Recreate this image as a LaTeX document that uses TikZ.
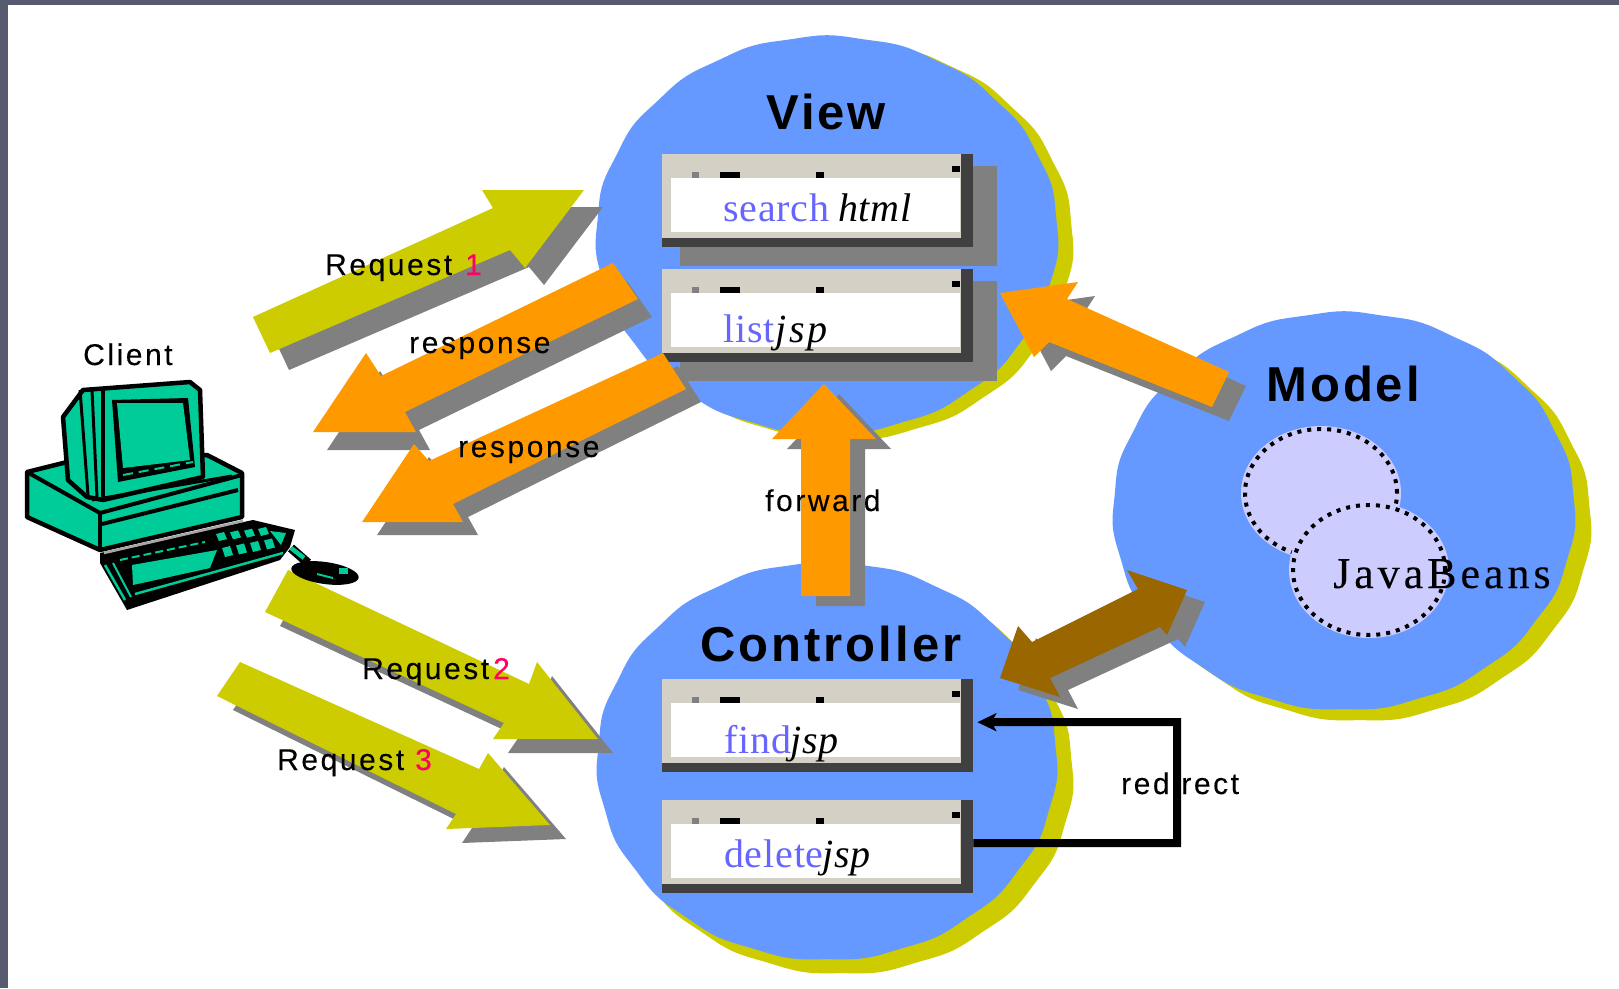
\documentclass[tikz,border=0pt]{standalone}
\usepackage{fontspec}
\setmainfont{Liberation Sans}
\newfontfamily\lblfont[LetterSpace=8.5,FakeBold=0.15]{Liberation Sans}
\newfontfamily\headfont[LetterSpace=6.2]{Liberation Sans}
\newfontfamily\tmsfont[LetterSpace=2]{Liberation Serif}
\newfontfamily\tmsitfont[LetterSpace=2,Scale=1]{Liberation Serif}
\newfontfamily\jspwide[LetterSpace=7]{Liberation Serif}
\newfontfamily\beanfont[LetterSpace=9,FakeBold=0.15]{Liberation Serif}
\usetikzlibrary{arrows.meta,calc}
\definecolor{barcol}{HTML}{585A70}
\definecolor{bluecol}{HTML}{6699FF}
\definecolor{yelcol}{HTML}{CCCC00}
\definecolor{orgcol}{HTML}{FF9900}
\definecolor{brncol}{HTML}{996600}
\definecolor{gracol}{HTML}{808080}
\definecolor{tealcol}{HTML}{00CC99}
\definecolor{lilcol}{HTML}{CCCCFF}
\definecolor{beigecol}{HTML}{D5D0C5}
\definecolor{darkcol}{HTML}{404040}
\definecolor{linkcol}{HTML}{6666FF}
\definecolor{redcol}{HTML}{FF0066}
\tikzset{
  lbl/.style={anchor=base west,inner sep=0pt,font=\lblfont\fontsize{30}{30}\selectfont},
  numlbl/.style={lbl,text=redcol},
  head/.style={anchor=base west,inner sep=0pt,font=\headfont\bfseries\fontsize{49}{49}\selectfont},
  pagetxt/.style={anchor=base west,inner sep=0pt,font=\tmsfont\fontsize{40}{40}\selectfont},
  pageit/.style={pagetxt,font=\tmsitfont\itshape\fontsize{40}{40}\selectfont},
  boxbase/.style={anchor=north west,inner sep=0pt,minimum width=311pt,minimum height=93pt,fill=darkcol},
  pc/.style={fill=tealcol,draw=black,line width=4.5pt,line join=round},
  pcline/.style={draw=black,line width=4pt},
  beanout/.style={draw=black,line width=4pt,dash pattern=on 4pt off 6pt},
}
\newcommand\blobpath[4]{plot[domain=0:358,samples=180,variable=\t,smooth cycle] ({#1+#3*(1+0.004*sin(19*\t))*cos(\t)},{#2+#4*(1+0.004*sin(19*\t))*sin(\t)})}
\newcommand\blob[5]{\fill[#5] \blobpath{#1}{#2}{#3}{#4};}
\newcommand\boxshadow[1]{\fill[gracol] (680,{#1+12}) rectangle (997,{#1+112});}
\newcommand\jspbox[2]{% name, top y
  \node[boxbase] (#1) at (662,#2) {};
  \fill[beigecol] (662,#2) rectangle (961,{#2+84});
  \fill[white] (671,{#2+24}) rectangle (960,{#2+78});
  \fill[black] (720,{#2+18}) rectangle (740,{#2+24});
  \fill[black] (816,{#2+18}) rectangle (824,{#2+24});
  \fill[black] (952,{#2+12}) rectangle (960,{#2+18});
  \fill[gracol] (692,{#2+24}) rectangle (699,{#2+18});
}
\newcommand\fatarrow[3]{% points, shadow offset, colour
  \fill[gracol,shift={(#2)}] #1 -- cycle;
  \fill[#3] #1 -- cycle;}
\begin{document}
\begin{tikzpicture}[x=1pt,y=-1pt]
\useasboundingbox (0,0) rectangle (1619,988);
\fill[white] (0,0) rectangle (1619,988);
\fill[barcol] (0,0) rectangle (1619,5);
\fill[barcol] (0,0) rectangle (8,988);
% circles
\blob{842}{241}{231}{199}{yelcol}
\blob{1360}{522}{231}{199}{yelcol}
\blob{842}{775}{231}{199}{yelcol}
\blob{827}{235}{231}{199}{bluecol}
\blob{1344}{511}{231}{199}{bluecol}
\blob{827}{761}{230}{199}{bluecol}
% beans
\node[inner sep=0pt] (beanA) at (1321,493) {};
\node[inner sep=0pt] (beanB) at (1369,570) {};
\fill[lilcol] (beanA) ellipse [x radius=80pt,y radius=67pt];
\draw[beanout] (beanA) ellipse [x radius=76pt,y radius=64pt];
\fill[lilcol] (beanB) ellipse [x radius=80pt,y radius=68pt];
\node[anchor=base west,inner sep=0pt,font=\beanfont\fontsize{44}{44}\selectfont] (beans) at (1333,588) {JavaBeans};
\draw[beanout] (beanB) ellipse [x radius=76pt,y radius=65pt];
% pages
\boxshadow{154}
\boxshadow{269}
\jspbox{search}{154}
\jspbox{list}{269}
\jspbox{find}{679}
\jspbox{delete}{800}
\node[pagetxt,text=linkcol] (t1a) at (723,221) {search};
\node[pageit] (t1b) at (838,221) {html};
\node[pagetxt,text=linkcol] (t2a) at (723,342) {list};
\node[pageit,font=\jspwide\itshape\fontsize{40}{40}\selectfont] (t2b) at (775,342) {jsp};
\node[pagetxt,text=linkcol] (t3a) at (724,753) {find};
\node[pageit] (t3b) at (790,753) {jsp};
\node[pagetxt,text=linkcol] (t4a) at (724,867) {delete};
\node[pageit] (t4b) at (822,867) {jsp};
% fat arrows
\fatarrow{(253,317) -- (493,208) -- (482,190) -- (584,190) -- (525,268) -- (510,250) -- (270,353)}{19,17}{yelcol}
\fatarrow{(613,263) -- (381,376) -- (366,353) -- (313,432) -- (416,432) -- (405,412) -- (638,299)}{14,18}{orgcol}
\fatarrow{(663,353) -- (429,461) -- (414,444) -- (362,522) -- (463,522) -- (453,504) -- (686,389)}{15,13}{orgcol}
\fatarrow{(288,570) -- (529,684) -- (537,662) -- (598,739) -- (493,739) -- (504,723) -- (265,612)}{15,14}{yelcol}
\fatarrow{(240,662) -- (479,769) -- (488,753) -- (550,825) -- (446,829) -- (456,814) -- (217,696)}{16,14}{yelcol}
\fatarrow{(801,596) -- (801,439) -- (772,439) -- (824,384) -- (876,439) -- (850,439) -- (850,596)}{15,10}{orgcol}
\fatarrow{(1229,372) -- (1067,299) -- (1078,282) -- (1000,293) -- (1034,357) -- (1049,342) -- (1212,407)}{17,14}{orgcol}
\fatarrow{(1000,678) -- (1018,626) -- (1032,642) -- (1138,589) -- (1127,570) -- (1187,590) -- (1167,635) -- (1160,627) -- (1050,678) -- (1060,697)}{18,12}{brncol}
% labels
\node[lbl] (req1) at (325,275) {Request};
\node[numlbl] (num1) at (465,275) {1};
\node[lbl] (resp1) at (409,353) {response};
\node[lbl] (resp2) at (458,457) {response};
\node[lbl] (fwd) at (765,511) {forward};
\node[lbl] (req2) at (362,679) {Request};
\node[numlbl] (num2) at (493,679) {2};
\node[lbl] (req3) at (277,770) {Request};
\node[numlbl] (num3) at (415,770) {3};
\node[lbl] (client) at (83,365) {Client};
\node[head] (viewt) at (766,129) {View};
\node[head] (ctrlt) at (700,661) {Controller};
\node[head] (modelt) at (1266,401) {Model};
\node[lbl] (redir) at (1121,794) {redirect};
% redirect connector
\coordinate (rcorner) at (1177,722);
\draw[line width=8pt,-{Stealth[length=19pt,width=18pt,inset=5pt]}] ([yshift=3.5pt]delete.east) -| (rcorner) -- ([xshift=4pt,yshift=3.5pt]find.east);
% computer
\path[pc] (27,472) -- (67,462) -- (207,455) -- (242,473) -- (242,517) -- (100,550) -- (27,517) -- cycle;
\draw[pcline] (27,472) -- (100,513) -- (242,475);
\draw[pcline] (100,513) -- (100,550);
\draw[pcline] (102,524) -- (238,490);
\path[pc] (63,417) -- (83,390) -- (190,382) -- (200,390) -- (203,477) -- (103,500) -- (87,497) -- (68,480) -- cycle;
\draw[pcline,line width=3pt] (80,390) -- (88,495);
\draw[pcline,line width=3pt] (92,390) -- (97,497);
\draw[pcline] (103,390) -- (103,500);
\draw[pcline,line width=3pt] (92,500) -- (232,476);
\fill[black] (112,400) -- (188,398) -- (195,467) -- (118,482) -- cycle;
\fill[tealcol] (117,403) -- (183,403) -- (190,460) -- (123,468) -- cycle;
\draw[tealcol,line width=2pt,dash pattern=on 10pt off 6pt] (123,475) -- (193,462);
\fill[black] (100,553) -- (253,520) -- (295,530) -- (290,547) -- (280,560) -- (127,610) -- (100,563) -- cycle;
\draw[gray!70,line width=2.5pt] (104,553) -- (243,521);
\fill[tealcol] (132,565) -- (217,550) -- (210,568) -- (133,585) -- cycle;
\draw[tealcol,line width=2.5pt] (105,565) -- (125,600);
\draw[tealcol,line width=2pt] (113,563) -- (131,597);
\draw[tealcol,line width=2.5pt] (135,594) -- (283,553);
\draw[tealcol,line width=2pt,dash pattern=on 8pt off 4pt] (120,560) -- (205,542);
\foreach \kx in {222,236,250,264} {
  \fill[tealcol] (\kx,{548-(\kx-222)*0.18}) -- ++(8,-2) -- ++(3,9) -- ++(-8,2) -- cycle;
  \fill[tealcol] ({\kx-6},{534-(\kx-222)*0.12}) -- ++(8,-2) -- ++(3,7) -- ++(-8,2) -- cycle;
}
\fill[tealcol] (270,531) -- (286,533) -- (281,545) -- cycle;
\draw[black,line width=9pt] (291,548) -- (308,563);
\draw[tealcol,line width=4.5pt] (291,548) -- (304,558);
\fill[black,rotate around={-8:(325,573)}] (325,573) ellipse [x radius=34pt,y radius=11pt];
\fill[tealcol] (339,568) rectangle (348,574);
\fill[tealcol] (317,573) -- (333,577) -- (333,579) -- (317,575) -- cycle;
\end{tikzpicture}
\end{document}
